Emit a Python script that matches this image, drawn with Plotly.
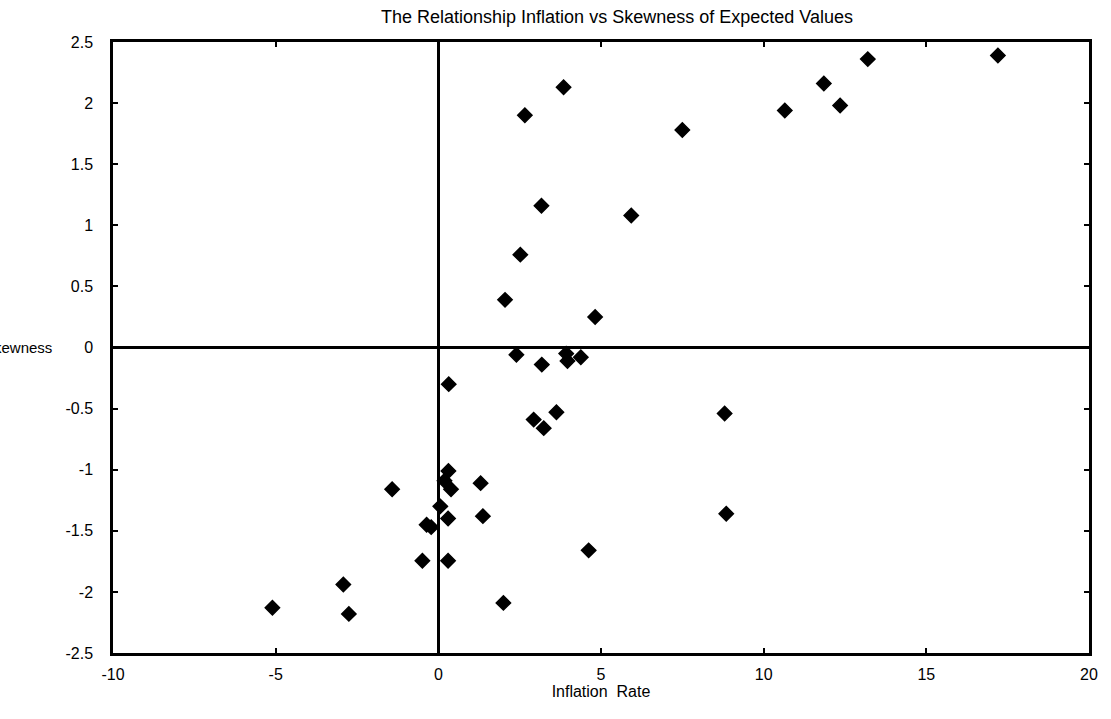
import plotly.graph_objects as go

# Inflation rate (%) and skewness of expected values, one point per observation
inflation = [17.2, 13.2, 11.85, 12.35, 10.65, 7.5, 3.85, 2.66, 3.17, 5.93,
             2.52, 2.05, 4.82, 2.4, 3.18, 3.93, 3.97, 4.38, 0.32, 3.63,
             2.93, 3.24, 8.8, 0.31, 0.19, 0.39, 1.3, -1.42, 0.06, -0.36,
             -0.22, 0.3, 1.37, 8.85, 4.62, -0.49, 0.3, -2.92, -2.75, -5.1,
             2.0]
skewness = [2.39, 2.36, 2.16, 1.98, 1.94, 1.78, 2.13, 1.9, 1.16, 1.08,
            0.76, 0.39, 0.25, -0.06, -0.14, -0.05, -0.11, -0.08, -0.3, -0.53,
            -0.59, -0.66, -0.54, -1.01, -1.09, -1.16, -1.11, -1.16, -1.3, -1.45,
            -1.47, -1.4, -1.38, -1.36, -1.66, -1.745, -1.745, -1.94, -2.18, -2.13,
            -2.09]

x_ticks = [-10, -5, 0, 5, 10, 15, 20]
y_ticks = [-2.5, -2, -1.5, -1, -0.5, 0, 0.5, 1, 1.5, 2, 2.5]
y_tick_text = ["-2.5", "-2", "-1.5", "-1", "-0.5", "0",
               "0.5", "1", "1.5", "2", "2.5"]

FONT = "Liberation Sans, Arial, Helvetica, sans-serif"

fig = go.Figure()
fig.add_trace(go.Scatter(
    x=inflation, y=skewness, mode="markers",
    marker=dict(symbol="diamond", size=11, color="black",
                line=dict(color="black", width=1.5)),
    showlegend=False,
))

axis_common = dict(
    showgrid=False,
    showline=True, linecolor="black", linewidth=2.5, mirror="ticks",
    ticks="inside", ticklen=5, tickwidth=2, tickcolor="black",
    zeroline=True, zerolinecolor="black", zerolinewidth=2.5,
    tickfont=dict(family=FONT, size=16, color="black"),
)

fig.update_layout(
    width=1111, height=719,
    margin=dict(l=113, r=22, t=42, b=66),
    paper_bgcolor="white", plot_bgcolor="white",
    font=dict(family=FONT, size=16, color="black"),
    xaxis=dict(range=[-10, 20], tickvals=x_ticks,
               ticktext=[str(v) for v in x_ticks],
               title=dict(text="Inflation  Rate", standoff=2,
                          font=dict(family=FONT, size=16, color="black")),
               ticklabelstandoff=5,
               **axis_common),
    yaxis=dict(range=[-2.5, 2.5], tickvals=y_ticks,
               ticktext=y_tick_text,
               ticklabelstandoff=14,
               **axis_common),
    annotations=[
        dict(text="The Relationship Inflation vs Skewness of Expected Values",
             xref="paper", yref="paper", x=0.516, y=1.0, yshift=25,
             xanchor="center", yanchor="middle", showarrow=False,
             font=dict(family=FONT, size=18, color="black")),
        dict(text="Skewness", xref="paper", yref="paper",
             x=-0.0605, y=0.5, xanchor="right", yanchor="middle",
             showarrow=False,
             font=dict(family=FONT, size=15, color="black")),
    ],
)

fig.write_html("out.html")
